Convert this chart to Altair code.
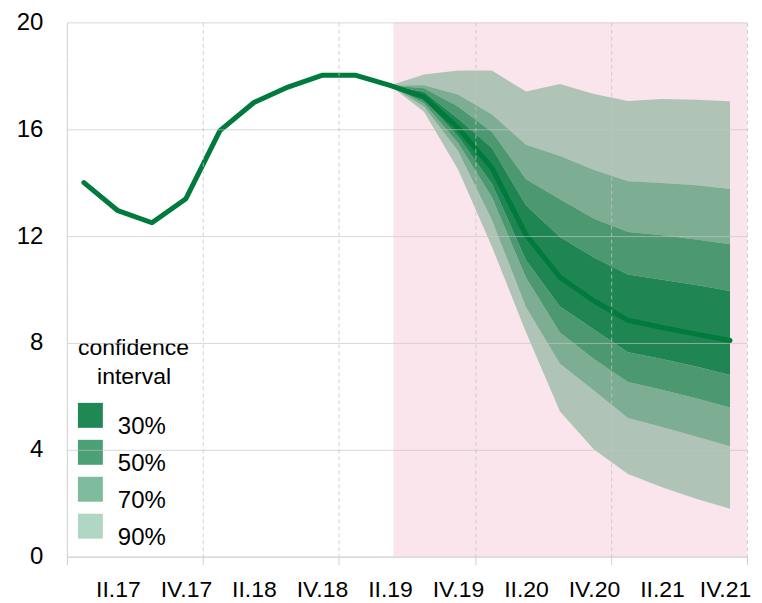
import json
import altair as alt
import pandas as pd

# ---------------- data ----------------
quarters = ["I.17", "II.17", "III.17", "IV.17", "I.18", "II.18", "III.18", "IV.18",
            "I.19", "II.19", "III.19", "IV.19", "I.20", "II.20", "III.20", "IV.20",
            "I.21", "II.21", "III.21", "IV.21"]
central = [14.0, 12.95, 12.5, 13.4, 15.95, 17.0, 17.58, 18.02,
           18.02, 17.64, 17.2, 16.05, 14.55, 12.05, 10.46, 9.57,
           8.85, 8.58, 8.33, 8.09]

fan_quarters = ["II.19", "III.19", "IV.19", "I.20", "II.20", "III.20",
                "IV.20", "I.21", "II.21", "III.21", "IV.21"]
u90 = [17.64, 18.05, 18.2, 18.2, 17.41, 17.69, 17.32, 17.06, 17.13, 17.1, 17.05]
u70 = [17.64, 17.65, 17.3, 16.55, 15.42, 15.0, 14.47, 14.05, 13.99, 13.9, 13.76]
u50 = [17.64, 17.53, 16.85, 15.9, 14.13, 13.38, 12.65, 12.15, 12.03, 11.87, 11.69]
u30 = [17.64, 17.4, 16.4, 15.3, 13.15, 11.97, 11.2, 10.56, 10.37, 10.17, 9.94]
l30 = [17.64, 17.1, 15.74, 13.95, 11.1, 9.36, 8.5, 7.65, 7.4, 7.12, 6.8]
l50 = [17.64, 16.97, 15.49, 13.45, 10.45, 8.39, 7.4, 6.54, 6.25, 5.93, 5.58]
l70 = [17.64, 16.85, 15.19, 12.6, 9.35, 7.22, 6.22, 5.19, 4.85, 4.5, 4.13]
l90 = [17.64, 16.65, 14.5, 11.6, 8.4, 5.43, 4.01, 3.09, 2.6, 2.17, 1.79]

levels = ["30%", "50%", "70%", "90%"]
level_colors = ["rgba(0,120,60,0.88)", "rgba(0,120,60,0.70)",
                "rgba(0,120,60,0.50)", "rgba(0,120,60,0.30)"]
# second line indented so that it sits centred under the first
legend_title = ["confidence", "\u200b\u00a0\u00a0\u00a0interval"]
forecast_start = "II.19"
y_ticks = [0, 4, 8, 12, 16, 20]

# ---------------- tables ----------------
idx = {q: i for i, q in enumerate(quarters)}
line_df = pd.DataFrame({"i": list(range(len(quarters))), "v": central})

segments = [
    ("30%", "mid", l30, u30),
    ("50%", "up", u30, u50),
    ("50%", "lo", l50, l30),
    ("70%", "up", u50, u70),
    ("70%", "lo", l70, l50),
    ("90%", "up", u70, u90),
    ("90%", "lo", l90, l70),
]
rows = []
for lev, part, lo, hi in segments:
    for q, a, b in zip(fan_quarters, lo, hi):
        rows.append({"i": idx[q], "lo": a, "hi": b, "level": lev, "seg": lev + part})
band_df = pd.DataFrame(rows)

shade_df = pd.DataFrame({"x0": [idx[forecast_start] + 0.1], "x1": [len(quarters) - 0.5],
                         "y0": [y_ticks[0]], "y1": [y_ticks[-1]]})

# ---------------- axes ----------------
grid_vals = [k - 0.5 for k in range(0, len(quarters) + 1, 4)]
label_vals = list(range(1, len(quarters), 2))
x_vals = sorted(grid_vals + label_vals)
last_label = len(quarters) - 1
label_expr = "datum.value % 1 != 0 ? '' : " + json.dumps(quarters) + "[datum.value]"

x_axis = alt.Axis(
    values=x_vals, labelExpr=label_expr, title=None,
    grid=True, gridDash=[4, 3], gridColor="#c4c4c4",
    gridOpacity={"condition": {"test": "datum.value % 1 != 0", "value": 0.8}, "value": 0},
    ticks=True, tickSize=8, tickColor="#c4c4c4",
    tickOpacity={"condition": {"test": "datum.value % 1 != 0", "value": 0.8}, "value": 0},
    domain=True, domainColor="#d4d4d4",
    labelFontSize=23, labelColor="#000000", labelPadding=14,
    labelOffset={"condition": {"test": f"datum.value == {last_label}", "value": -5}, "value": 0},
    labelOverlap=False, labelFlush=False, labelAngle=0, zindex=1,
)
y_axis = alt.Axis(
    values=y_ticks, title=None, grid=True, gridColor="#c4c4c4", gridOpacity=0.65,
    ticks=False, domain=True, domainColor="#d4d4d4",
    labelFontSize=24, labelColor="#000000", labelPadding=24, zindex=1,
)
x_scale = alt.Scale(domain=[-0.5, len(quarters) - 0.5], nice=False, zero=False)
y_scale = alt.Scale(domain=[y_ticks[0], y_ticks[-1]], nice=False)

shade = alt.Chart(shade_df).mark_rect(color="#fbe5ed").encode(
    x=alt.X("x0:Q", scale=x_scale, axis=x_axis),
    x2="x1:Q",
    y=alt.Y("y0:Q", scale=y_scale, axis=y_axis),
    y2="y1:Q",
)

bands = alt.Chart(band_df).mark_area(opacity=1, strokeWidth=0).encode(
    x=alt.X("i:Q", scale=x_scale, axis=x_axis),
    y=alt.Y("lo:Q", scale=y_scale, axis=y_axis),
    y2="hi:Q",
    detail="seg:N",
    color=alt.Color(
        "level:N",
        scale=alt.Scale(domain=levels, range=level_colors),
        legend=alt.Legend(
            title=legend_title, orient="none", legendX=11, legendY=315,
            titleFontSize=23, titleFontWeight="normal", titleColor="#000000",
            titleAnchor="start", titleAlign="left", titlePadding=14, titleLineHeight=29,
            labelFontSize=24, labelColor="#000000", labelOffset=15, labelBaseline="top",
            symbolType="square", symbolSize=625, symbolStrokeWidth=0, symbolOpacity=1,
            rowPadding=-1, padding=0,
        ),
    ),
)

line = alt.Chart(line_df).mark_line(color="#007a3d", strokeWidth=5, strokeCap="round",
                                     strokeJoin="round").encode(
    x=alt.X("i:Q", scale=x_scale, axis=x_axis),
    y=alt.Y("v:Q", scale=y_scale, axis=y_axis),
)

chart = alt.layer(shade, bands, line).properties(
    width=681, height=535,
    autosize=alt.AutoSizeParams(type="none"),
    padding={"left": 59, "top": 14, "right": 7, "bottom": 45},
).configure(
    font="Liberation Sans",
).configure_view(stroke=None)

chart.save("out.html", embed_options={"renderer": "svg", "actions": False})
